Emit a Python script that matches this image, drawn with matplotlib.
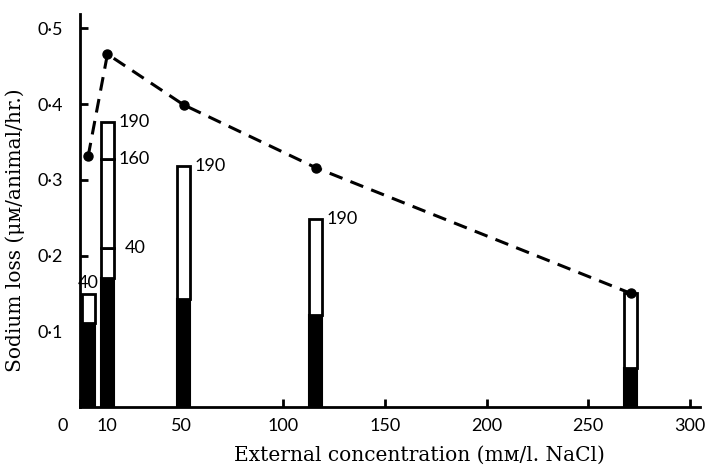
import matplotlib
matplotlib.use("Agg")
from matplotlib import pyplot as plt
import matplotlib.ticker as ticker
from matplotlib.transforms import ScaledTranslation

# ============================== Data =============================== #
conc = [4, 13.5, 51, 116, 271]                 # mM/l. NaCl
total_loss = [0.331, 0.466, 0.399, 0.316, 0.150]  # dashed curve
black_part = [0.111, 0.170, 0.142, 0.122, 0.051]  # filled part of each bar
# upper boundaries of the open segments stacked on the black part
seg_tops = [[0.149], [0.2095, 0.327, 0.377], [0.318], [0.248], [0.151]]
seg_labels = [["40"], ["40", "160", "190"], ["190"], ["190"], [""]]

x_ticks = [0, 13, 50, 100, 150, 200, 250, 300]
x_ticklabels = ["0", "10", "50", "100", "150", "200", "250", "300"]
y_ticks = [0.1, 0.2, 0.3, 0.4, 0.5]
x_title = "External concentration (m\u1d0d/l. NaCl)"
y_title = "Sodium loss (\u03bc\u1d0d/animal/hr.)"
# =================================================================== #

num_font = ["Lato", "DejaVu Sans"]
serif_font = ["DejaVu Serif"]
num_size = 13

fig = plt.figure(figsize=(7.06, 4.70), dpi=100)
ax = fig.add_axes([80 / 706, 63 / 470, 620 / 706, 393 / 470])

bar_w = 6.4
ax.bar(conc, black_part, width=bar_w, color="black", edgecolor="black",
       linewidth=1.5, zorder=2)
for i, x in enumerate(conc):
    bottom = black_part[i]
    for top, lab in zip(seg_tops[i], seg_labels[i]):
        ax.bar(x, top - bottom, bottom=bottom, width=bar_w, facecolor="white",
               edgecolor="black", linewidth=2, zorder=2)
        if lab:
            if i == 0:
                ax.annotate(lab, (x, top), xytext=(0, 2), textcoords="offset points",
                            ha="center", va="bottom", fontsize=num_size, family=num_font)
            else:
                dx = 8 if (i == 1 and lab == "40") else 3
                ax.annotate(lab, (x + bar_w / 2, top), xytext=(dx, 0),
                            textcoords="offset points", ha="left", va="center",
                            fontsize=num_size, family=num_font)
        bottom = top

ax.plot(conc, total_loss, ls=(0, (4.5, 2.8)), color="black", lw=2.2,
        marker="o", ms=6.5, zorder=3, clip_on=False)

ax.set_xlim(0, 305)
ax.set_ylim(0, 0.519)
ax.set_xticks(x_ticks)
ax.set_xticklabels(x_ticklabels)
ax.set_yticks(y_ticks)
ax.yaxis.set_major_formatter(ticker.FuncFormatter(lambda v, p: f"{v:.1f}".replace(".", "\u00b7")))

for s in ["top", "right"]:
    ax.spines[s].set_visible(False)
for s in ["left", "bottom"]:
    ax.spines[s].set_linewidth(2)

ax.tick_params(axis="both", direction="in", length=6, width=2, labelsize=num_size)
ax.tick_params(axis="x", pad=8)
ax.tick_params(axis="y", pad=12)
for lab in ax.get_xticklabels() + ax.get_yticklabels():
    lab.set_family(num_font)

# the "0" label sits left of the axis in the original
xl = ax.get_xticklabels()
xl[0].set_transform(xl[0].get_transform() + ScaledTranslation(-0.17, 0, fig.dpi_scale_trans))

ax.set_xlabel(x_title, fontsize=14.5, family=serif_font)
ax.set_ylabel(y_title, fontsize=14.5, family=serif_font)
ax.xaxis.set_label_coords(0.548, -0.098)
ax.yaxis.set_label_coords(-0.088, 0.45)

plt.savefig("out.png", dpi=100)
